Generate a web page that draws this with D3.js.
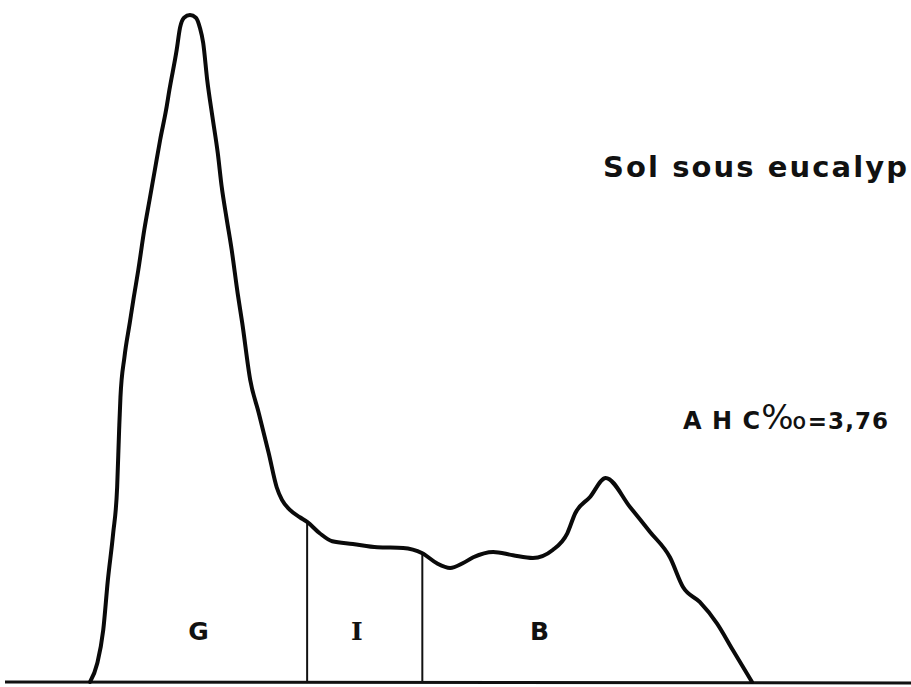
<!DOCTYPE html>
<html>
	<head>
		<meta charset="utf-8">
		<title>Sol sous eucalyp</title>
		<script src="https://d3js.org/d3.v7.min.js"></script>
		<style>
			body { margin: 0; background: #fff; }
		</style>
	</head>
	<body>
		<script>

		// densitometer trace: migration (% of run) vs relative density (% of max)
		var migration = [0, 1.1, 2.0, 2.7, 3.5, 4.1, 4.4, 4.6, 5.2, 6.0, 6.6, 7.3, 8.2, 9.0, 9.8, 10.6, 11.5, 12.0,
			13.1, 13.6, 14.2, 15.1, 16.0, 16.6, 17.1, 17.7, 18.5, 19.3, 19.9, 20.6, 21.4, 22.3, 23.0, 24.2, 25.5,
			27.0, 28.2, 29.0, 30.2, 31.7, 32.8, 34.7, 36.6, 39.7, 43.4, 47.3, 50.2, 52.4, 54.4, 56.3, 57.9, 60.9,
			63.9, 66.9, 69.9, 72.1, 73.3, 75.5, 77.9, 81.6, 84.6, 87.6, 89.6, 92.1, 94.7, 97.1, 100];
		var density = [0, 2.8, 7.8, 15.3, 22.3, 29.2, 37.8, 42.7, 48.7, 53.8, 57.6, 61.8, 67.8, 72.3, 76.8, 81.3, 85.8, 88.8,
			94.8, 98.1, 99.6, 100, 99.6, 98.1, 95.8, 90.3, 84.7, 79.3, 74.2, 69.7, 64.8, 58.3, 53.8, 45.3, 40.3,
			34.3, 29.2, 27.3, 25.8, 24.7, 24.0, 22.3, 21.1, 20.7, 20.2, 20.1, 19.3, 17.8, 17.1, 17.8, 18.7, 19.5,
			19.0, 18.6, 19.8, 22.3, 25.3, 27.7, 30.6, 26.2, 22.5, 18.7, 14.2, 12.0, 8.8, 4.8, 0];

		// fraction cuts and names
		var cuts = [32.8, 50.2];
		var fractions = ["G", "I", "B"];
		var labelPos = [16.4, 40.3, 67.9];

		var title = "Sol sous eucalyp";
		var ahcValue = "3,76";

		var width = 911, height = 687;

		var x = d3.scaleLinear().domain([0, 100]).range([90, 752]);
		var y = d3.scaleLinear().domain([0, 100]).range([682, 15]);

		var svg = d3.select("body")
			.append("svg")
			.attr("width", width)
			.attr("height", height);

		var pts = migration.map(function(d, i){ return [d, density[i]]; });

		// baseline
		svg.append("line")
			.attr("x1", 5)
			.attr("x2", width)
			.attr("y1", y(0))
			.attr("y2", y(0) + 1)
			.attr("stroke", "#111")
			.attr("stroke-width", 3);

		function densityAt(m){
			for (var i = 1; i < pts.length; i++) {
				if (pts[i][0] >= m) {
					var t = (m - pts[i-1][0]) / (pts[i][0] - pts[i-1][0]);
					return pts[i-1][1] + t * (pts[i][1] - pts[i-1][1]);
				}
			}
			return 0;
		}

		// fraction separators
		svg.selectAll("line.cut")
			.data(cuts)
			.enter().append("line")
			.attr("class", "cut")
			.attr("x1", function(d){ return x(d); })
			.attr("x2", function(d){ return x(d); })
			.attr("y1", y(0))
			.attr("y2", function(d){ return y(densityAt(d)); })
			.attr("stroke", "#111")
			.attr("stroke-width", 2);

		var line = d3.line()
			.x(function(d){ return x(d[0]); })
			.y(function(d){ return y(d[1]); })
			.curve(d3.curveMonotoneX);

		svg.append("path")
			.datum(pts)
			.attr("d", line)
			.attr("fill", "none")
			.attr("stroke", "#0a0a0a")
			.attr("stroke-width", 4)
			.attr("stroke-linejoin", "round")
			.attr("stroke-linecap", "round");

		// fraction labels
		svg.selectAll("text.frac")
			.data(fractions)
			.enter().append("text")
			.attr("class", "frac")
			.attr("x", function(d, i){ return x(labelPos[i]); })
			.attr("y", 640)
			.attr("text-anchor", "middle")
			.attr("font-family", function(d){ return d == "I" ? "DejaVu Serif" : "DejaVu Sans"; })
			.attr("font-weight", "bold")
			.attr("font-size", 25)
			.attr("fill", "#111")
			.text(function(d){ return d; });

		svg.append("text")
			.attr("x", 603)
			.attr("y", 177)
			.attr("font-family", "DejaVu Sans")
			.attr("font-weight", "bold")
			.attr("font-size", 29)
			.attr("textLength", 304)
			.attr("lengthAdjust", "spacing")
			.attr("fill", "#111")
			.text(title);

		var ahc = svg.append("text")
			.attr("x", 683)
			.attr("y", 429)
			.attr("font-family", "DejaVu Sans")
			.attr("font-weight", "bold")
			.attr("font-size", 24)
			.attr("textLength", 205)
			.attr("lengthAdjust", "spacing")
			.attr("fill", "#111");
		ahc.append("tspan").text("A H C");
		ahc.append("tspan").attr("font-size", 34).attr("font-weight", "normal").text("‰");
		ahc.append("tspan").attr("font-size", 23).text("=" + ahcValue);

		</script>
	</body>
</html>
